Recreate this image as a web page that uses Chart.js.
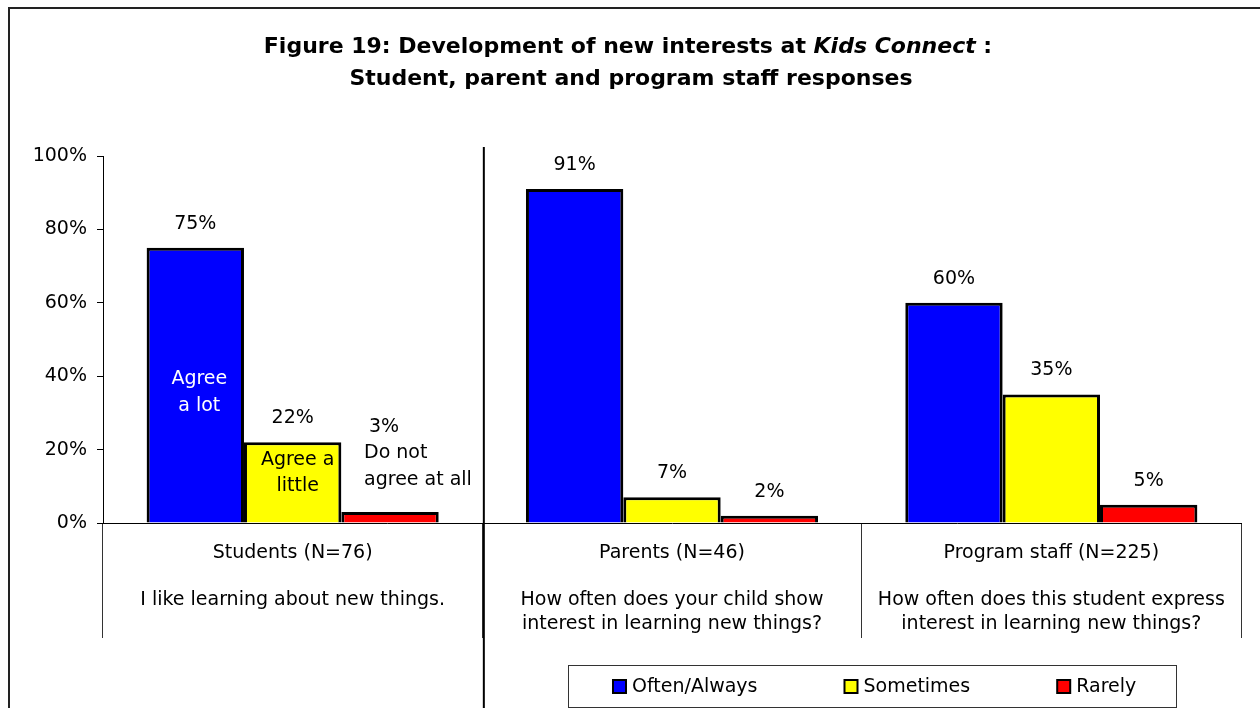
<!DOCTYPE html>
<html lang="en">
<head>
<meta charset="UTF-8">
<title>Development of new interests at Kids Connect</title>
<script src="https://cdn.jsdelivr.net/npm/chart.js"></script>
<style>
    body {
        margin: 0;
        padding: 0;
        background: #fff;
    }
    canvas {
        display: block;
    }
</style>
</head>
<body>
<canvas id="interestChart" width="1260" height="708"></canvas>
<script>
    // Survey groups and the question each group answered
    const groups = ['Students (N=76)', 'Parents (N=46)', 'Program staff (N=225)'];
    const questions = [
        ['I like learning about new things.'],
        ['How often does your child show', 'interest in learning new things?'],
        ['How often does this student express', 'interest in learning new things?']
    ];

    // Response shares in percent, one value per group
    const seriesNames = ['Often/Always', 'Sometimes', 'Rarely'];
    const oftenAlways = [75, 91, 60];
    const sometimes = [22, 7, 35];
    const rarely = [3, 2, 5];

    const yTicks = [0, 20, 40, 60, 80, 100];

    // Student answer wording shown on their bars
    const studentWording = [['Agree', 'a lot'], ['Agree a', 'little'], ['Do not', 'agree at all']];

    const FONT = '"DejaVu Sans", sans-serif';
    const colors = ['#0000ff', '#ffff00', '#ff0000'];

    const tickLabels = groups.map((g, i) => [g, ''].concat(questions[i]));

    // Frame, title and the divider between students and adults
    const framePlugin = {
        id: 'frame',
        afterDraw(chart) {
            const ctx = chart.ctx;
            const x = chart.scales.x;
            ctx.save();
            ctx.strokeStyle = '#222';
            ctx.lineWidth = 2;
            ctx.strokeRect(9, 8, chart.width + 10, chart.height + 10);

            // divider between the student group and the adult groups
            const divX = (x.getPixelForValue(0) + x.getPixelForValue(1)) / 2 + 1.5;
            ctx.strokeStyle = '#000';
            ctx.lineWidth = 2;
            ctx.beginPath();
            ctx.moveTo(divX, 147);
            ctx.lineTo(divX, chart.height);
            ctx.stroke();

            // two-line title, with the program name in italics
            ctx.fillStyle = '#000';
            ctx.textBaseline = 'alphabetic';
            const parts = [
                ['Figure 19: Development of new interests at ', 'bold 22px ' + FONT],
                ['Kids Connect', 'italic bold 22px ' + FONT],
                [' :', 'bold 22px ' + FONT]
            ];
            let total = 0;
            parts.forEach(p => { ctx.font = p[1]; total += ctx.measureText(p[0]).width; });
            let tx = chart.width / 2 - 2 - total / 2;
            parts.forEach(p => {
                ctx.font = p[1];
                ctx.textAlign = 'left';
                ctx.fillText(p[0], tx, 53);
                tx += ctx.measureText(p[0]).width;
            });
            ctx.font = 'bold 22px ' + FONT;
            ctx.textAlign = 'center';
            ctx.fillText('Student, parent and program staff responses', chart.width / 2 + 1, 85);
            ctx.restore();
        }
    };

    // Value labels over the bars, plus the student answer wording
    const valueLabels = {
        id: 'valueLabels',
        afterDatasetsDraw(chart) {
            const ctx = chart.ctx;
            const base = chart.scales.y.getPixelForValue(0);
            ctx.save();
            ctx.font = '19px ' + FONT;
            ctx.textBaseline = 'middle';
            ctx.textAlign = 'center';
            ctx.fillStyle = '#000';
            chart.data.datasets.forEach((ds, di) => {
                chart.getDatasetMeta(di).data.forEach((bar, i) => {
                    const text = ds.data[i] + '%';
                    if (di === 2 && i === 0) {
                        ctx.fillText(text, bar.x - 6, bar.y - 85);
                    } else {
                        ctx.fillText(text, bar.x, bar.y - 24);
                    }
                });
            });

            const sb = [0, 1, 2].map(di => chart.getDatasetMeta(di).data[0]);
            // Agree a lot
            ctx.fillStyle = '#fff';
            ctx.fillText(studentWording[0][0], sb[0].x + 4, base - 144);
            ctx.fillText(studentWording[0][1], sb[0].x + 4, base - 117);
            // Agree a little
            ctx.fillStyle = '#000';
            ctx.fillText(studentWording[1][0], sb[1].x + 5, base - 63);
            ctx.fillText(studentWording[1][1], sb[1].x + 5, base - 37);
            // Do not agree at all
            ctx.textAlign = 'left';
            ctx.fillText(studentWording[2][0], sb[2].x - 26, sb[2].y - 59);
            ctx.fillText(studentWording[2][1], sb[2].x - 26, sb[2].y - 32);
            ctx.restore();
        }
    };

    // Boxed legend under the adult groups
    const boxLegend = {
        id: 'boxLegend',
        afterDraw(chart) {
            const ctx = chart.ctx;
            ctx.save();
            ctx.strokeStyle = '#333';
            ctx.lineWidth = 1;
            ctx.strokeRect(568.5, 665.5, 608, 42);
            ctx.font = '19px ' + FONT;
            ctx.textBaseline = 'middle';
            ctx.textAlign = 'left';
            let lx = 612;
            chart.data.datasets.forEach(ds => {
                ctx.fillStyle = '#000';
                ctx.fillRect(lx, 679, 15, 15);
                ctx.fillStyle = ds.backgroundColor;
                ctx.fillRect(lx + 2, 681, 11, 11);
                ctx.fillStyle = '#000';
                ctx.fillText(ds.label, lx + 20, 687);
                lx += 20 + ctx.measureText(ds.label).width + 86;
            });
            ctx.restore();
        }
    };

    const seriesData = [oftenAlways, sometimes, rarely];

    new Chart(document.getElementById('interestChart').getContext('2d'), {
        type: 'bar',
        data: {
            labels: tickLabels,
            datasets: seriesNames.map((name, i) => ({
                label: name,
                data: seriesData[i],
                backgroundColor: colors[i],
                borderColor: '#000',
                borderWidth: 3,
                borderSkipped: 'start',
                inflateAmount: 0,
                categoryPercentage: 0.77,
                barPercentage: 1
            }))
        },
        options: {
            responsive: false,
            animation: false,
            devicePixelRatio: 1,
            layout: {
                padding: {top: 156, right: 19, bottom: 0, left: 0}
            },
            plugins: {
                legend: {display: false},
                title: {display: false},
                tooltip: {enabled: false}
            },
            scales: {
                x: {
                    offset: true,
                    grid: {
                        offset: true,
                        drawOnChartArea: false,
                        tickLength: 115,
                        color: '#333',
                        lineWidth: 1
                    },
                    border: {color: '#000', width: 1},
                    ticks: {
                        autoSkip: false,
                        maxRotation: 0,
                        padding: -97,
                        color: '#000',
                        font: {family: FONT, size: 19, lineHeight: 1.25}
                    },
                    afterFit(scale) {
                        scale.height = 185;
                    }
                },
                y: {
                    min: yTicks[0],
                    max: yTicks[yTicks.length - 1],
                    afterBuildTicks(scale) {
                        scale.ticks = yTicks.map(v => ({value: v}));
                    },
                    grid: {
                        drawOnChartArea: false,
                        tickLength: 6,
                        color: '#000'
                    },
                    border: {color: '#000', width: 1},
                    ticks: {
                        padding: 10,
                        color: '#000',
                        font: {family: FONT, size: 19},
                        callback: v => v + '%'
                    },
                    afterFit(scale) {
                        scale.width = 103;
                    }
                }
            }
        },
        plugins: [framePlugin, valueLabels, boxLegend]
    });
</script>
</body>
</html>
